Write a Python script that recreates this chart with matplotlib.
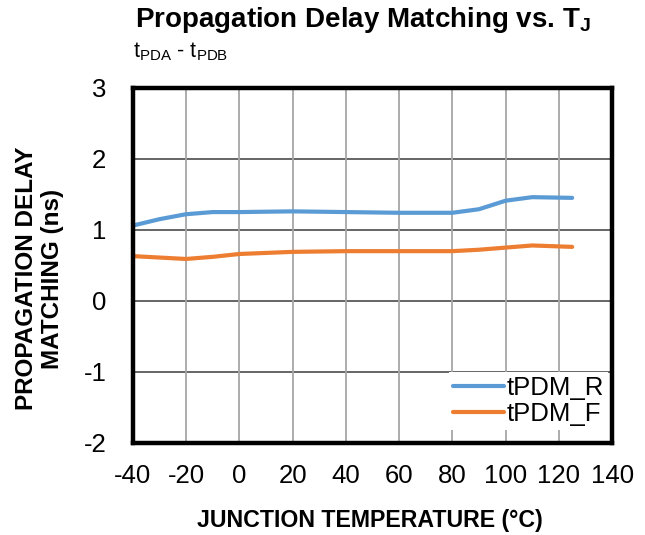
import numpy as np
import matplotlib.pyplot as plt

plt.rcParams['font.family'] = ['Liberation Sans', 'DejaVu Sans']
plt.rcParams['axes.unicode_minus'] = False

# temperatures (°C)
temp = [-40, -30, -20, -10, 0, 20, 40, 60, 80, 90, 100, 110, 125]
# tPDM_R (ns)
tpdm_r = [1.06, 1.15, 1.22, 1.25, 1.25, 1.26, 1.25, 1.24, 1.24, 1.29, 1.41, 1.46, 1.45]
# tPDM_F (ns)
tpdm_f = [0.63, 0.61, 0.59, 0.62, 0.66, 0.69, 0.70, 0.70, 0.70, 0.72, 0.75, 0.78, 0.76]

xticks = [-40, -20, 0, 20, 40, 60, 80, 100, 120, 140]
yticks = [-2, -1, 0, 1, 2, 3]

fig = plt.figure(figsize=(6.45, 5.35), dpi=100)
ax = fig.add_axes([0.206, 0.172, 0.743, 0.664])

ax.plot(temp, tpdm_r, color='#5B9BD5', lw=3, label='tPDM_R', solid_capstyle='round')
ax.plot(temp, tpdm_f, color='#ED7D31', lw=3, label='tPDM_F', solid_capstyle='round')

ax.set_xlim(-40, 140)
ax.set_ylim(-2, 3)
ax.set_xticks(xticks)
ax.set_yticks(yticks)
ax.tick_params(length=0, labelsize=18.5)
ax.tick_params(axis='x', pad=15)
ax.tick_params(axis='y', pad=19)

# grid: darker horizontal, lighter vertical
for y in yticks[1:-1]:
    ax.axhline(y, color='#595959', lw=1.3, zorder=0)
for x in xticks[1:-1]:
    ax.axvline(x, color='#a6a6a6', lw=1.3, zorder=0)

for s in ax.spines.values():
    s.set_linewidth(3.2)
    s.set_color('black')

# axis titles placed like the original
fig.text(0.574, 0.028, 'JUNCTION TEMPERATURE (°C)', ha='center', va='center',
         fontsize=16.7, fontweight='bold')
fig.text(0.061, 0.479, 'PROPAGATION DELAY\nMATCHING (ns)', ha='center', va='center',
         rotation=90, fontsize=17.5, fontweight='bold', linespacing=1.15)

leg = ax.legend(loc='lower right', bbox_to_anchor=(1.0, 0.025), fontsize=18.5,
                frameon=True, fancybox=False, edgecolor='none', borderaxespad=0.15,
                handlelength=2.0, handletextpad=0.1, labelspacing=0.1, borderpad=0.15)
leg.get_frame().set_alpha(1)

fig.text(0.562, 0.963, 'Propagation Delay Matching vs. T$_\\mathregular{J}$',
         ha='center', va='center', fontsize=20, fontweight='bold')
fig.text(0.206, 0.903, 't$_\\mathregular{PDA}$ - t$_\\mathregular{PDB}$',
         ha='left', va='center', fontsize=15.5)

fig.savefig('out.png', dpi=100)
